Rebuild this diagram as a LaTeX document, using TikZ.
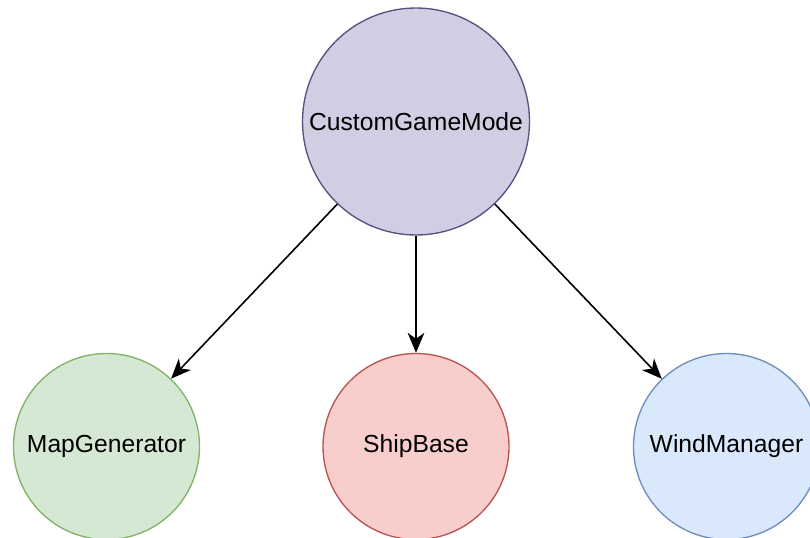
\documentclass[tikz,border=0pt]{standalone}
\usepackage{fontspec}
\setmainfont{Liberation Sans}
\usetikzlibrary{arrows.meta}
\definecolor{pfill}{HTML}{D0CEE2}\definecolor{pdraw}{HTML}{56517E}
\definecolor{gfill}{HTML}{D5E8D4}\definecolor{gdraw}{HTML}{82B366}
\definecolor{rfill}{HTML}{F8CECC}\definecolor{rdraw}{HTML}{B85450}
\definecolor{bfill}{HTML}{DAE8FC}\definecolor{bdraw}{HTML}{6C8EBF}
\tikzset{
  circ/.style={circle, inner sep=0pt, line width=1pt, font=\fontsize{18.5}{22}\selectfont},
  conn/.style={-{Stealth[length=15pt,width=12.5pt,inset=4.5pt]}, line width=1.2pt, black}
}
\begin{document}
\begin{tikzpicture}[x=0.75pt,y=-0.75pt]
\useasboundingbox (0,0) rectangle (810,538);
\node[circ, fill=pfill, draw=pdraw, minimum size=227*0.75pt] (cgm) at (416,121.5) {CustomGameMode};
\node[circ, fill=gfill, draw=gdraw, minimum size=186*0.75pt] (map) at (106.5,446.5) {MapGenerator};
\node[circ, fill=rfill, draw=rdraw, minimum size=186*0.75pt] (ship) at (416,446.5) {ShipBase};
\node[circ, fill=bfill, draw=bdraw, minimum size=186*0.75pt] (wind) at (726.5,446.5) {WindManager};
\draw[conn] (cgm) -- (map);
\draw[conn] (cgm) -- (ship);
\draw[conn] (cgm) -- (wind);
\end{tikzpicture}
\end{document}
